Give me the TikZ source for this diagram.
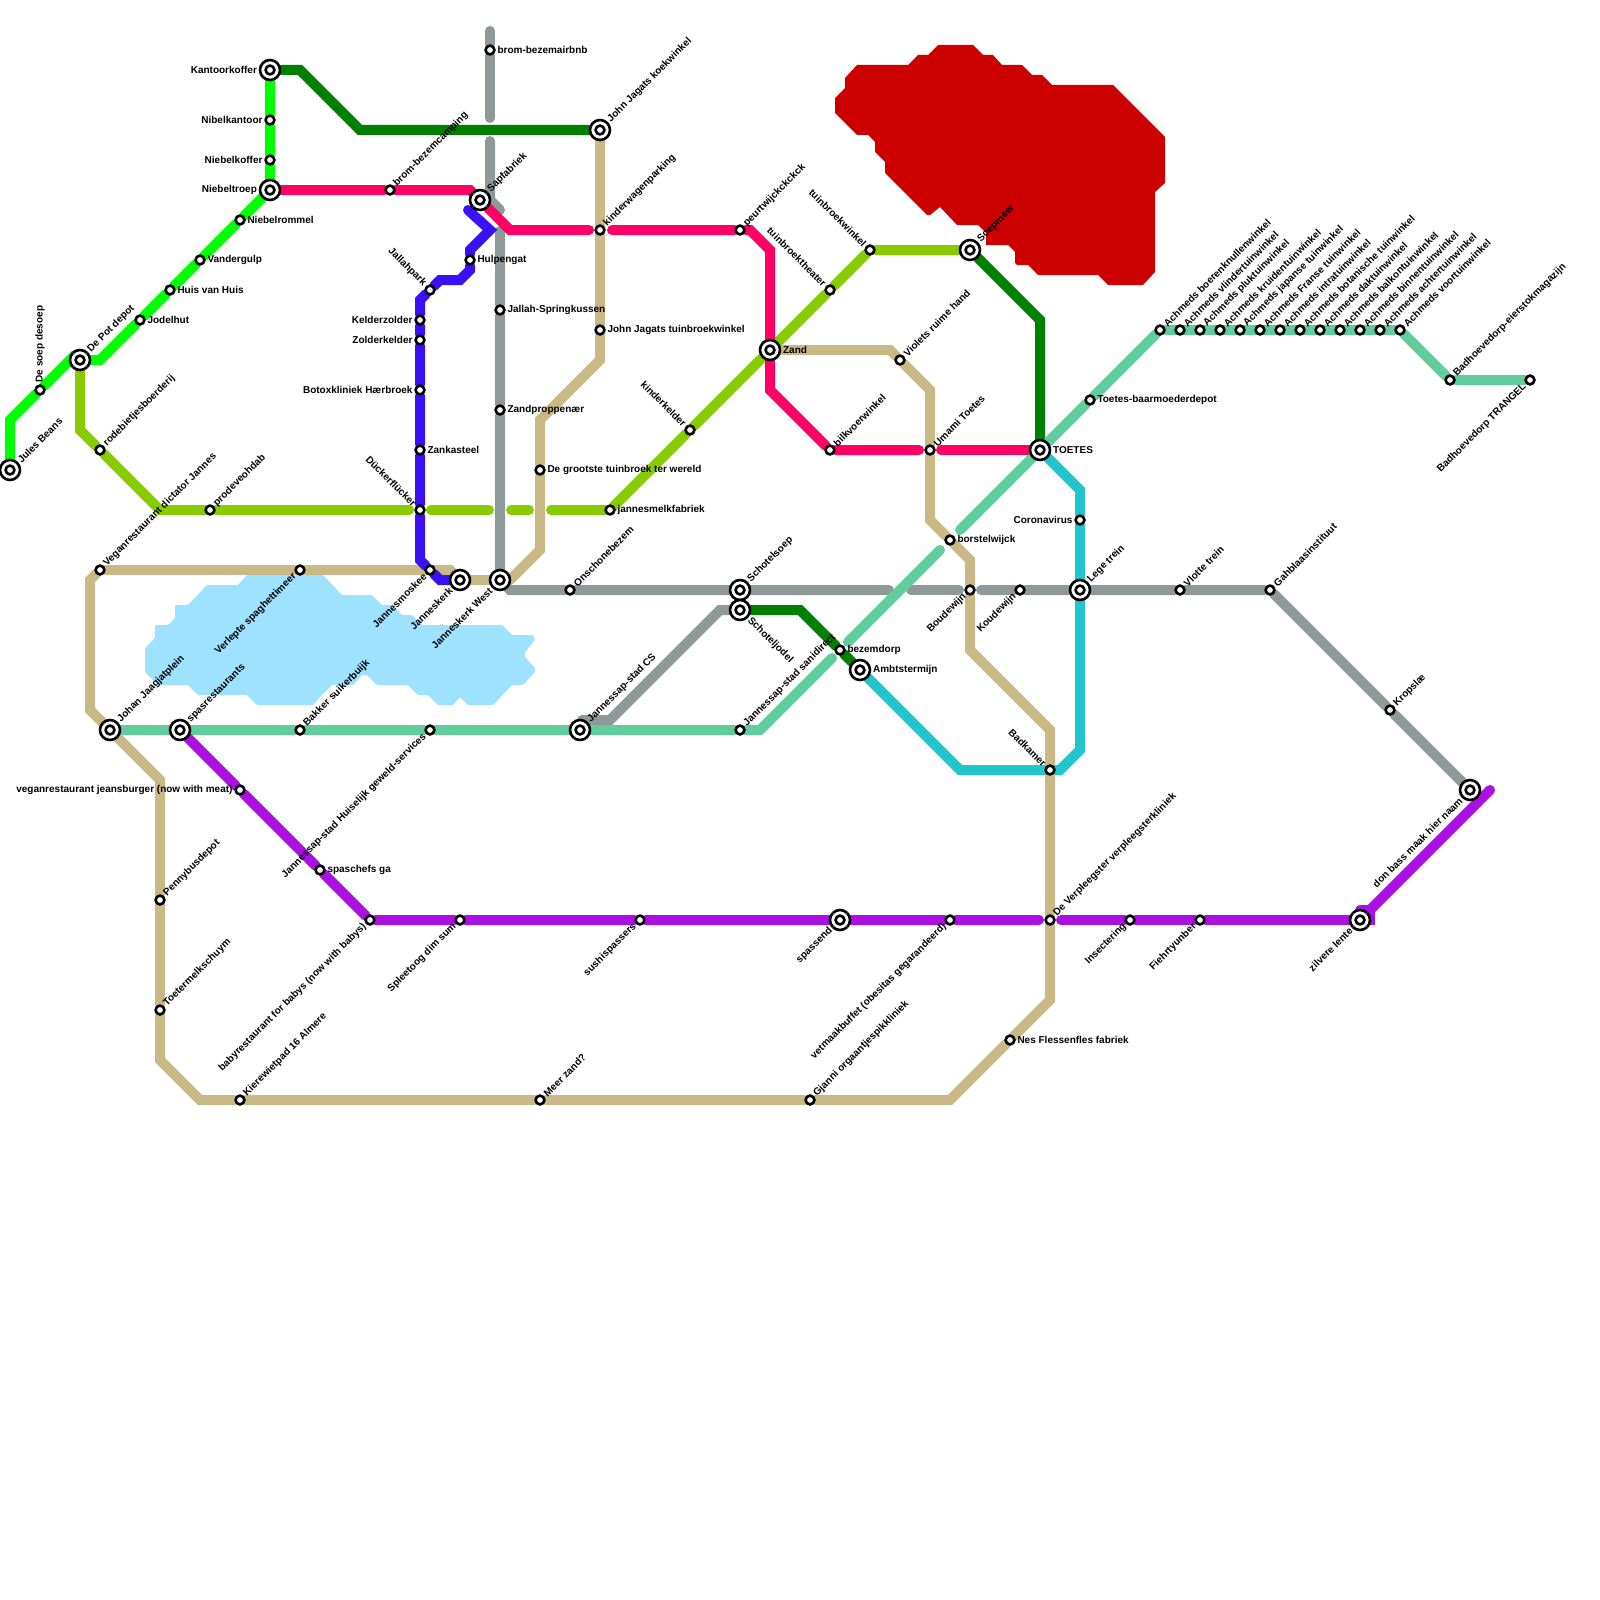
\documentclass[tikz,border=0pt]{standalone}
\usepackage{fontspec}
\setmainfont{Liberation Sans}
\usetikzlibrary{backgrounds}
\definecolor{lijnlime}{HTML}{00FF00}
\definecolor{lijngroen}{HTML}{008000}
\definecolor{lijnroze}{HTML}{FF0066}
\definecolor{lijnblauw}{HTML}{3A10F5}
\definecolor{lijngrijs}{HTML}{8F9999}
\definecolor{lijntan}{HTML}{C9B986}
\definecolor{lijnzee}{HTML}{61CC9E}
\definecolor{lijngeel}{HTML}{88CC00}
\definecolor{lijncyaan}{HTML}{22C5CB}
\definecolor{lijnpaars}{HTML}{AA10E0}
\definecolor{vlakrood}{HTML}{CC0000}
\definecolor{vlakblauw}{HTML}{9EE2FF}
\tikzset{metro/.style={line width=10pt,line cap=round,line join=miter},
stn/.style={circle,draw=black,fill=white,line width=2.6pt,minimum size=8.8pt,inner sep=0pt},
hub/.style={stn,minimum size=20pt,label distance=4.5pt,path picture={\draw[black,line width=2.6pt] (path picture bounding box.center) circle (4.4pt);}},
lab/.style={font=\fontsize{10}{12}\selectfont\bfseries,inner sep=1.8pt,outer sep=0pt,text=black},
lr/.style={label={[lab,anchor=west]0:#1}},
ll/.style={label={[lab,anchor=east]180:#1}},
lne/.style={label={[lab,rotate=45,anchor=west]45:#1}},
lnw/.style={label={[lab,rotate=-45,anchor=east]135:#1}},
lsw/.style={label={[lab,rotate=45,anchor=east]225:#1}},
lse/.style={label={[lab,rotate=-45,anchor=west]-45:#1}},
lup/.style={label={[lab,rotate=90,anchor=west]90:#1}}}
\begin{document}
\begin{tikzpicture}[x=1pt,y=-1pt]
\useasboundingbox (0,0) rectangle (1600,1600);
% lime en geel
\node[hub,lne=Jules Beans] (jules) at (10,470) {};
\node[stn,lup=De soep desoep] (soep) at (40,390) {};
\node[hub,lne=De Pot depot] (pot) at (80,360) {};
\node[stn,lr=Jodelhut] (jodel) at (140,320) {};
\node[stn,lr=Huis van Huis] (huis) at (170,290) {};
\node[stn,lr=Vandergulp] (gulp) at (200,260) {};
\node[stn,lr=Niebelrommel] (rommel) at (240,220) {};
\node[hub,ll=Niebeltroep] (troep) at (270,190) {};
\node[stn,ll=Niebelkoffer] (koffer) at (270,160) {};
\node[stn,ll=Nibelkantoor] (kantoor) at (270,120) {};
\node[hub,ll=Kantoorkoffer] (kantoorkoffer) at (270,70) {};
\node[stn,lne=rodebietjesboerderij] (bietjes) at (100,450) {};
\node[stn,lne=prodeveohdab] (prode) at (210,510) {};
\node[stn,lnw=Dückerflücker] (ducker) at (420,510) {};
\node[stn,lr=jannesmelkfabriek] (melk) at (610,510) {};
\node[stn,lnw=kinderkelder] (kelder) at (690,430) {};
\node[hub,lr=Zand] (zand) at (770,350) {};
\node[stn,lnw=tuinbroektheater] (theater) at (830,290) {};
\node[stn,lnw=tuinbroekwinkel] (tuinw) at (870,250) {};
\node[hub,lne=Soepmeer] (soepmeer) at (970,250) {};
% roze en blauw
\node[stn,lne=brom-bezemcamping] (camping) at (390,190) {};
\node[hub,lne=Sapfabriek] (sap) at (480,200) {};
\node[hub,lne=John Jagats koekwinkel] (koek) at (600,130) {};
\node[stn,lne=kinderwagenparking] (wagen) at (600,230) {};
\node[stn,lne=peurtwijckckckck] (peurt) at (740,230) {};
\node[stn,lne=bilkvoerwinkel] (bilk) at (830,450) {};
\node[stn,lne=Umami Toetes] (umami) at (930,450) {};
\node[hub,lr=TOETES] (toetes) at (1040,450) {};
\node[stn,lr=Hulpengat] (hulp) at (470,260) {};
\node[stn,lnw=Jallahpark] (jallah) at (430,290) {};
\node[stn,ll=Kelderzolder] (kzolder) at (420,320) {};
\node[stn,ll=Zolderkelder] (zkelder) at (420,340) {};
\node[stn,ll=Botoxkliniek Hærbroek] (botox) at (420,390) {};
\node[stn,lr=Zankasteel] (zank) at (420,450) {};
\node[stn,lsw=Jannesmoskee] (moskee) at (430,570) {};
\node[hub,lsw=Janneskerk] (kerk) at (460,580) {};
\node[hub,lsw=Janneskerk West] (kerkwest) at (500,580) {};
% grijs
\node[stn,lr=brom-bezemairbnb] (airbnb) at (490,50) {};
\node[stn,lr=Jallah-Springkussen] (spring) at (500,310) {};
\node[stn,lr=Zandproppenær] (prop) at (500,410) {};
\node[stn,lne=Onschonebezem] (onschoon) at (570,590) {};
\node[hub,lne=Schotelsoep] (soepschotel) at (740,590) {};
\node[hub,lse=Schoteljodel] (jodelschotel) at (740,610) {};
\node[stn,lsw=Boudewijn] (boude) at (970,590) {};
\node[stn,lsw=Koudewijn] (koude) at (1020,590) {};
\node[hub,lne=Lege trein] (lege) at (1080,590) {};
\node[stn,lne=Vlotte trein] (vlotte) at (1180,590) {};
\node[stn,lne=Gahblaasinstituut] (gah) at (1270,590) {};
\node[stn,lne=Kropslæ] (krop) at (1390,710) {};
\node[hub,lsw=don bass maak hier naam] (bass) at (1470,790) {};
% tan
\node[stn,lr={John Jagats tuinbroekwinkel}] (jjtuin) at (600,330) {};
\node[stn,lr=De grootste tuinbroek ter wereld] (grootste) at (540,470) {};
\node[stn,lsw=Verlepte spaghettimeer] (spaghetti) at (300,570) {};
\node[stn,lne=Veganrestaurant dictator Jannes] (dictator) at (100,570) {};
\node[hub,lne=Johan Jaagjatplein] (johan) at (110,730) {};
\node[stn,lne=Pennybusdepot] (penny) at (160,900) {};
\node[stn,lne=Toetermelkschuym] (toeter) at (160,1010) {};
\node[stn,lne=Kierewietpad 16 Almere] (kiere) at (240,1100) {};
\node[stn,lne=Meer zand?] (meer) at (540,1100) {};
\node[stn,lne=Gjanni orgaantjespikkliniek] (gjanni) at (810,1100) {};
\node[stn,lr=Nes Flessenfles fabriek] (nes) at (1010,1040) {};
\node[stn,lne=De Verpleegster verpleegsterkliniek] (verpleeg) at (1050,920) {};
\node[stn,lnw=Badkamer] (bad) at (1050,770) {};
\node[stn,lr=borstelwijck] (borstel) at (950,540) {};
\node[stn,lne=Violets ruime hand] (violet) at (900,360) {};
% zee
\node[hub,lne=spasrestaurants] (spas) at (180,730) {};
\node[stn,lne=Bakker suikerbuijk] (bakker) at (300,730) {};
\node[stn,lsw=Jannessap-stad Huiselijk geweld-services] (huiselijk) at (430,730) {};
\node[hub,lne=Jannessap-stad CS] (cs) at (580,730) {};
\node[stn,lne=Jannessap-stad sanidirect] (sani) at (740,730) {};
\node[stn,lr=bezemdorp] (bezem) at (840,650) {};
\node[hub,lr=Ambtstermijn] (ambt) at (860,670) {};
\node[stn,lr=Toetes-baarmoederdepot] (baar) at (1090,400) {};
\foreach \t [count=\i] in {boerenknullenwinkel,vlindertuinwinkel,pluktuinwinkel,kruidentuinwinkel,japanse tuinwinkel,Franse tuinwinkel,intratuinwinkel,botanische tuinwinkel,daktuinwinkel,balkontuinwinkel,binnentuinwinkel,achtertuinwinkel,voortuinwinkel}
  \node[stn,lne=Achmeds \t] (ach\i) at ({1140+20*\i},330) {};
\node[stn,lne=Badhoevedorp-eierstokmagazijn] (eier) at (1450,380) {};
\node[stn,lsw=Badhoevedorp TRANGEL] (trangel) at (1530,380) {};
\node[stn,ll=Coronavirus] (corona) at (1080,520) {};
% paars
\node[stn,ll={veganrestaurant jeansburger (now with meat)}] (jeans) at (240,790) {};
\node[stn,lr=spaschefs ga] (chefs) at (320,870) {};
\node[stn,lsw={babyrestaurant for babys (now with babys)}] (baby) at (370,920) {};
\node[stn,lsw=Spleetoog dim sum] (spleet) at (460,920) {};
\node[stn,lsw=sushispassers] (sushi) at (640,920) {};
\node[hub,lsw=spassend] (spassend) at (840,920) {};
\node[stn,lsw={vetmaakbuffet (obesitas gegarandeerd)}] (vetmaak) at (950,920) {};
\node[stn,lsw=Insectering] (insect) at (1130,920) {};
\node[stn,lsw=Fiehrtyunber] (fiehr) at (1200,920) {};
\node[hub,lsw=zilvere lente] (zilver) at (1360,920) {};
% losse eindpunten
\coordinate (gA) at (490,31); \coordinate (gB) at (490,118); \coordinate (gC) at (490,141); \coordinate (gD) at (500,210); \coordinate (gE) at (500,231);
\coordinate (gF) at (889,590); \coordinate (gG) at (911,590); \coordinate (gH) at (959,590); \coordinate (gI) at (981,590); \coordinate (gJ) at (582,720);
\coordinate (rA) at (589,230); \coordinate (rB) at (612,230); \coordinate (rC) at (919,450); \coordinate (rD) at (941,450); \coordinate (bA) at (468,210);
\coordinate (yA) at (409,510); \coordinate (yB) at (431,510); \coordinate (yC) at (489,510); \coordinate (yD) at (511,510); \coordinate (yE) at (529,510); \coordinate (yF) at (551,510);
\coordinate (zA) at (832,658); \coordinate (zB) at (848,642); \coordinate (zC) at (940,550); \coordinate (zD) at (960,530);
\coordinate (pA) at (1039,920); \coordinate (pB) at (1061,920); \coordinate (pC) at (1490,790); \coordinate (pD) at (1360,910); \coordinate (pE) at (1360,920); \coordinate (lA) at (75,355); \coordinate (tA) at (510,580);
\begin{pgfonlayer}{background}
\fill[vlakblauw,rounded corners=1pt] (247,575)--(323,575)--(342,595)--(372,595)--(382,605)--(392,605)--(402,615)--(412,615)--(422,625)--(502,625)--(512,635)--(533,635)--(535,640)--(525,652)--(525,657)--(535,668)--(535,672)--(523,685)--(512,685)--(493,705)--(468,705)--(460,697)--(453,705)--(438,705)--(428,695)--(418,695)--(408,685)--(377,685)--(367,675)--(362,675)--(353,685)--(332,685)--(322,695)--(313,705)--(257,705)--(247,695)--(198,695)--(188,685)--(158,685)--(145,672)--(145,648)--(155,638)--(155,625)--(168,625)--(175,618)--(175,605)--(188,605)--(207,585)--(238,585)--cycle;
\fill[vlakrood] (857,65)--(908,65)--(918,55)--(928,55)--(938,45)--(973,45)--(983,55)--(993,55)--(1002,65)--(1022,65)--(1032,75)--(1042,75)--(1052,85)--(1113,85)--(1165,137)--(1165,183)--(1155,192)--(1155,272)--(1143,285)--(1108,285)--(1098,275)--(1038,275)--(1028,265)--(1017,265)--(1015,263)--(1015,252)--(1008,245)--(986,245)--(986,233)--(978,225)--(957,225)--(940,207)--(930,215)--(927,215)--(885,173)--(885,162)--(875,152)--(875,142)--(868,135)--(857,135)--(835,113)--(835,98)--(845,88)--(845,78)--cycle;
\draw[metro,lijngrijs] (gA)--(airbnb)--(gB);
\draw[metro,lijngrijs] (gC)--(490,200)--(gD);
\draw[metro,lijngrijs] (gE)--(spring)--(prop)--(kerkwest)--(510,590)--(onschoon)--(soepschotel)--(gF);
\draw[metro,lijngrijs] (gG)--(gH);
\draw[metro,lijngrijs] (gI)--(koude)--(lege)--(vlotte)--(gah)--(krop)--(bass);
\draw[metro,lijngrijs] (gJ)--(610,720)--(720,610)--(jodelschotel);
\draw[metro,lijntan] (koek)--(wagen)--(jjtuin)--(600,360)--(540,420)--(grootste)--(540,550)--(tA);
\draw[metro,lijntan] (kerkwest)--(kerk)--(450,570)--(spaghetti)--(dictator)--(90,580)--(90,710)--(johan)--(160,780)--(penny)--(toeter)--(160,1060)--(200,1100)--(kiere)--(meer)--(gjanni)--(950,1100)--(nes)--(1050,1000)--(verpleeg)--(bad)--(1050,730)--(970,650)--(boude)--(970,560)--(borstel)--(930,520)--(umami)--(930,390)--(violet)--(890,350)--(zand);
\draw[metro,lijnlime] (jules)--(10,420)--(soep)--(lA);
\draw[metro,lijnlime] (pot)--(100,360)--(jodel)--(huis)--(gulp)--(rommel)--(troep)--(koffer)--(kantoor)--(kantoorkoffer);
\draw[metro,lijngroen] (kantoorkoffer)--(300,70)--(360,130)--(koek);
\draw[metro,lijngroen] (soepmeer)--(1040,320)--(toetes);
\draw[metro,lijngroen] (jodelschotel)--(800,610)--(bezem)--(ambt);
\draw[metro,lijngeel] (pot)--(80,430)--(bietjes)--(160,510)--(prode)--(yA);
\draw[metro,lijngeel] (yB)--(yC);
\draw[metro,lijngeel] (yD)--(yE);
\draw[metro,lijngeel] (yF)--(melk)--(kelder)--(zand)--(theater)--(tuinw)--(soepmeer);
\draw[metro,lijnroze] (troep)--(camping)--(470,190)--(sap)--(510,230)--(rA);
\draw[metro,lijnroze] (rB)--(peurt)--(750,230)--(770,250)--(zand)--(770,390)--(bilk)--(rC);
\draw[metro,lijnroze] (rD)--(toetes);
\draw[metro,lijnblauw] (bA)--(490,230)--(470,250)--(hulp)--(470,270)--(460,280)--(440,280)--(jallah)--(420,300)--(kzolder)--(zkelder)--(botox)--(zank)--(ducker)--(420,560)--(moskee)--(440,580)--(kerk);
\draw[metro,lijnzee] (johan)--(spas)--(bakker)--(huiselijk)--(cs)--(sani)--(760,730)--(zA);
\draw[metro,lijnzee] (zB)--(zC);
\draw[metro,lijnzee] (zD)--(toetes)--(baar)--(ach1)--(ach13)--(eier)--(trangel);
\draw[metro,lijncyaan] (ambt)--(960,770)--(bad)--(1060,770)--(1080,750)--(lege)--(corona)--(1080,490)--(toetes);
\draw[metro,lijnpaars] (spas)--(jeans)--(chefs)--(baby)--(spleet)--(sushi)--(spassend)--(vetmaak)--(pA);
\draw[metro,lijnpaars] (pB)--(insect)--(fiehr)--(zilver);
\draw[metro,lijnpaars] (pE)--(1370,920)--(1370,910)--(pD);
\draw[metro,lijnpaars] (1370,910)--(pC);
\end{pgfonlayer}
\end{tikzpicture}
\end{document}
